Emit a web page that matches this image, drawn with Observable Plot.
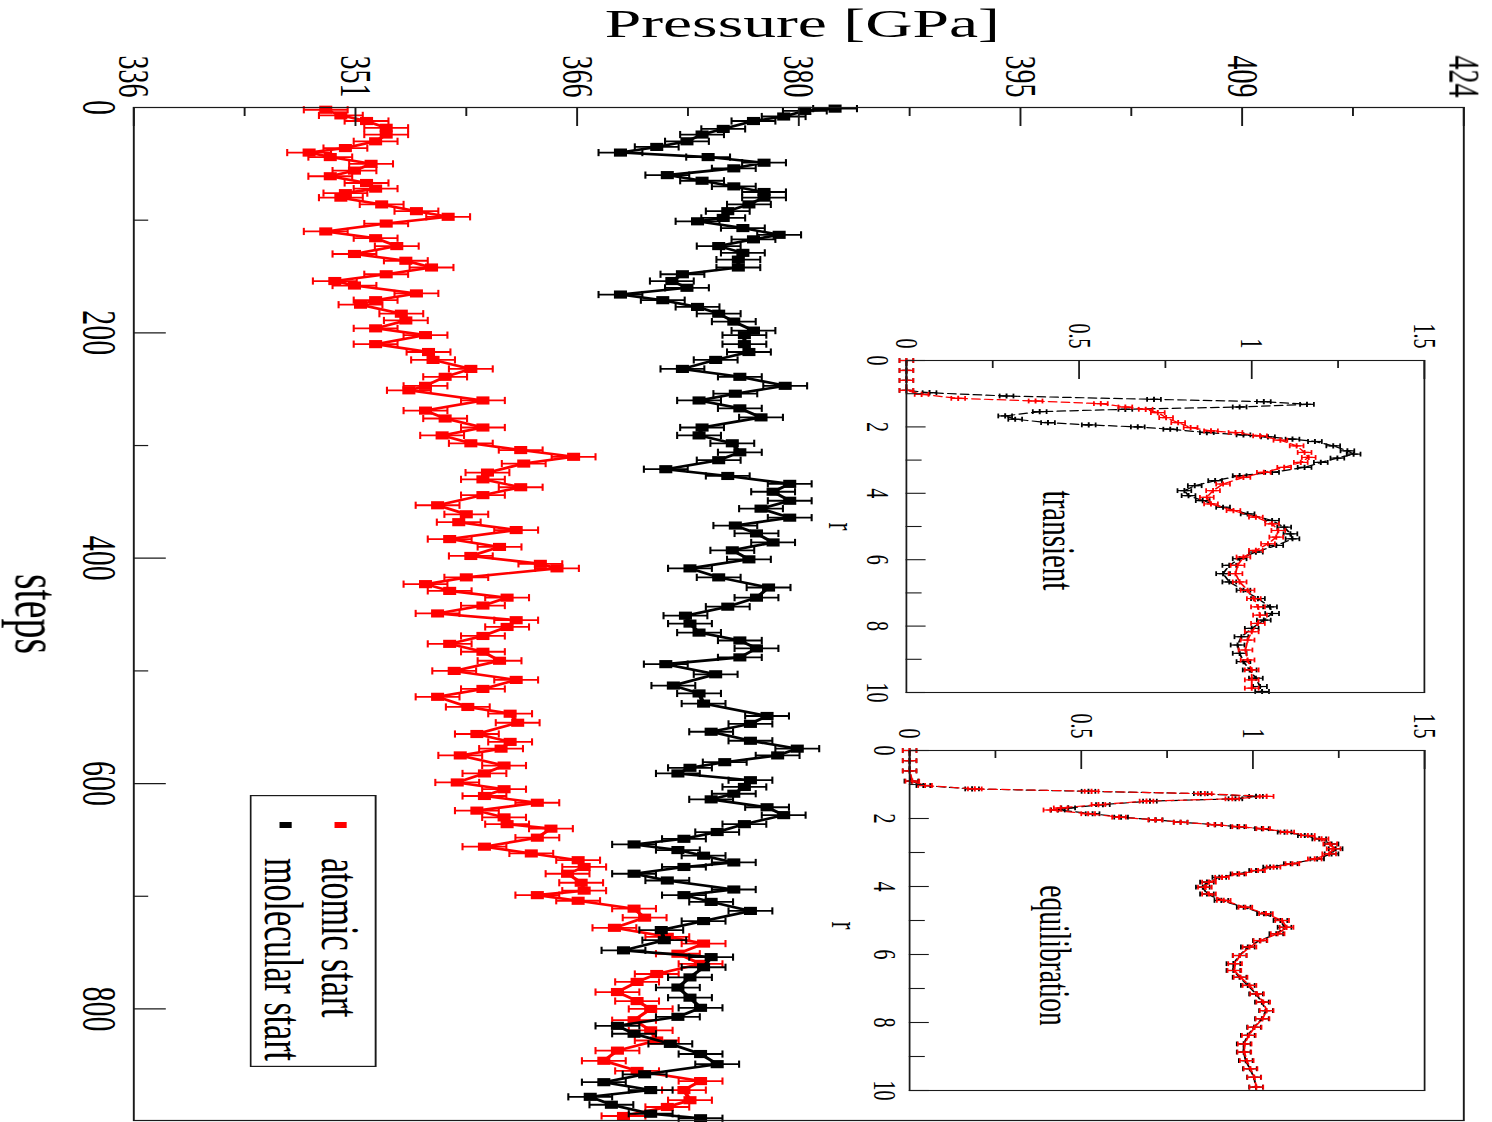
<!DOCTYPE html>
<html><head><meta charset="utf-8">
<script src="https://cdn.jsdelivr.net/npm/d3@7"></script>
<script src="https://cdn.jsdelivr.net/npm/@observablehq/plot@0.6"></script>
<style>
html,body{margin:0;padding:0;background:#fff;overflow:hidden;}
#stage{position:relative;width:932.5px;height:1122px;transform:scaleX(1.6);transform-origin:0 0;}
#stage > svg{position:absolute;left:0;top:0;}
</style></head><body><div id="stage"></div>
<script>
// ---------- data: main chart [steps, pressure GPa] ----------
const atomicStart = [[2,348.7],[7,349.7],[12,351.4],[18,352.7],[24,352.7],[30,352.0],[36,350.0],[40,347.6],[44,349.0],[50,351.7],[56,350.6],[61,349.0],[67,351.4],[72,352.0],[76,350.0],[80,349.7],[86,352.4],[92,354.7],[97,356.8],[103,352.7],[110,348.7],[116,352.0],[123,353.4],[130,350.6],[136,354.0],[142,355.7],[148,352.7],[154,349.3],[158,350.6],[165,354.7],[171,352.0],[175,351.0],[183,353.7],[189,354.0],[196,352.0],
[202,355.3],[210,352.0],[217,355.5],[224,355.8],[232,358.3],[239,356.6],[247,355.3],[251,354.2],[260,359.1],[269,355.3],[276,356.6],[284,359.1],[291,356.4],[298,358.3],[304,361.6],[310,365.1],[316,361.8],[324,359.4],[330,359.1],[337,361.6],[344,359.1],[353,356.1],[361,358.0],[368,357.5],[375,361.3],[383,356.9],[390,360.2],[398,358.3],[405,362.9],[409,364.0],[417,358.0],[423,355.3],[429,356.9],[435,360.7],[442,359.1],[449,356.1],[455,361.3],[461,360.7],[469,359.1],[476,356.9],[483,359.1],[491,360.2],[500,357.2],[508,361.3],[516,359.1],[523,356.1],
[532,358.1],[538,360.9],[546,361.4],[556,358.7],[563,360.9],[569,360.3],[575,357.6],[584,360.5],[591,359.2],[599,357.4],[605,360.5],[611,359.2],[617,362.7],[624,358.7],[630,360.5],[636,360.7],[640,363.6],[648,362.7],[656,359.2],[662,362.3],[668,365.4],[674,365.8],[680,364.7],[688,365.6],[695,365.8],[699,362.7],[704,365.4],[711,369.1],[719,369.8],[728,367.8],[736,371.3],[742,373.7],[751,372.0],[760,373.5],[769,370.6],[776,369.3],[785,368.0],[793,369.3],[800,370.2],[810,369.1],[819,370.2],[828,370.6],[837,368.0],[846,367.1],[855,369.3],[864,373.5],[872,372.4],[881,372.8],[887,371.3],[895,368.4]];
const molecularStart = [[1,382.4],[3,380.4],[8,379.0],[12,377.0],[19,375.0],[24,373.6],[30,372.6],[35,370.6],[40,368.2],[44,374.0],[49,377.7],[54,375.7],[60,371.3],[65,373.6],[70,375.7],[75,377.7],[80,377.7],[86,376.7],[92,375.3],[98,375.0],[101,373.3],[107,376.3],[113,378.7],[117,377.0],[123,374.7],[129,376.3],[135,376.0],[142,376.0],[148,372.3],[154,371.6],[160,372.6],[166,368.2],[171,371.0],[177,373.3],[183,374.7],[190,375.7],[198,377.0],
[202,376.4],[210,376.4],[217,376.7],[224,374.5],[232,372.3],[239,376.1],[247,379.1],[254,375.8],[260,373.4],[267,376.1],[275,377.5],[284,373.6],[291,373.4],[298,375.6],[306,376.1],[313,374.7],[321,371.2],[327,375.3],[334,379.4],[341,378.3],[349,379.4],[356,377.5],[364,379.4],[371,375.8],[378,377.2],[386,378.3],[393,375.6],[401,376.7],[409,372.8],[417,374.7],[426,378.0],[435,377.2],[443,375.3],[451,372.5],[458,372.8],[466,373.4],[473,376.1],[480,377.2],[488,376.1],[494,371.2],[503,374.5],[513,371.7],[520,373.4],
[529,373.7],[540,377.9],[547,376.8],[554,374.2],[562,376.8],[569,379.9],[575,378.6],[581,375.1],[586,372.8],[591,372.0],[597,376.8],[603,376.4],[609,375.7],[614,374.2],[621,377.9],[628,379.0],[636,376.4],[643,374.6],[649,372.4],[654,369.1],[659,372.0],[664,373.7],[670,375.7],[674,372.4],[680,369.1],[686,371.3],[694,375.7],[699,372.4],[705,374.2],[713,376.8],[722,373.7],[730,370.9],[739,371.1],[748,368.4],[754,374.2],[763,373.7],[772,372.8],[781,372.0],[790,372.8],[799,373.5],[807,372.0],[815,368.0],[822,369.1],[831,371.5],[840,373.5],[849,374.6],[858,369.8],[865,367.1],[872,370.2],[878,366.2],[885,367.6],[893,370.2],[897,373.5]];

// ---------- data: insets [r, g(r)] ----------
const transientBlack = [[0,0],[0.3,0],[0.6,0],[0.9,0],[0.97,0.067],[1.07,0.29],[1.17,0.717],[1.24,1.035],[1.32,1.16],[1.40,0.965],[1.47,0.634],[1.54,0.386],[1.67,0.286],[1.77,0.315],[1.87,0.41],[1.94,0.528],[2.0,0.67],[2.07,0.764],[2.17,0.87],[2.24,0.976],[2.3,1.047],[2.37,1.118],[2.44,1.183],[2.57,1.236],[2.72,1.277],[2.82,1.295],[2.94,1.248],[3.07,1.2],[3.22,1.153],[3.37,1.059],[3.47,0.965],[3.62,0.894],[3.77,0.835],[3.92,0.805],[4.07,0.817],[4.22,0.858],[4.42,0.917],[4.62,0.988],[4.82,1.059],[5.02,1.094],[5.22,1.112],[5.37,1.118],[5.57,1.071],[5.77,1.012],[5.97,0.965],[6.17,0.935],[6.42,0.917],[6.67,0.935],[6.92,0.976],[7.17,1.018],[7.42,1.053],[7.62,1.059],[7.82,1.035],[8.07,1.0],[8.32,0.97],[8.57,0.959],[8.82,0.965],[9.07,0.976],[9.32,0.994],[9.57,1.012],[9.82,1.024],[9.97,1.03]];
const transientRed = [[0,0],[0.3,0],[0.6,0],[0.9,0],[1.02,0.044],[1.14,0.15],[1.22,0.374],[1.30,0.563],[1.40,0.634],[1.47,0.693],[1.57,0.728],[1.72,0.752],[1.87,0.787],[2.02,0.823],[2.12,0.882],[2.17,0.953],[2.27,1.024],[2.4,1.083],[2.57,1.13],[2.77,1.153],[2.92,1.165],[3.07,1.142],[3.22,1.094],[3.37,1.035],[3.52,0.976],[3.72,0.917],[3.92,0.888],[4.12,0.87],[4.32,0.882],[4.52,0.947],[4.72,1.012],[4.92,1.059],[5.12,1.077],[5.32,1.071],[5.52,1.047],[5.72,1.012],[5.92,0.976],[6.17,0.959],[6.42,0.953],[6.67,0.965],[6.92,0.988],[7.17,1.006],[7.42,1.018],[7.67,1.024],[7.92,1.018],[8.17,1.0],[8.42,0.988],[8.72,0.982],[9.02,0.988],[9.32,1.0],[9.62,1.0],[9.87,1.0]];
const equilBlack = [[0,0],[0.3,0],[0.6,0],[0.9,0.005],[1.03,0.04],[1.13,0.182],[1.2,0.521],[1.27,0.848],[1.35,1.009],[1.42,0.949],[1.49,0.7],[1.59,0.563],[1.69,0.462],[1.75,0.432],[1.86,0.533],[1.96,0.616],[2.04,0.717],[2.11,0.789],[2.18,0.89],[2.24,0.955],[2.30,1.026],[2.40,1.092],[2.50,1.151],[2.60,1.193],[2.75,1.229],[2.89,1.241],[3.04,1.229],[3.19,1.187],[3.33,1.11],[3.43,1.05],[3.53,1.009],[3.63,0.955],[3.73,0.902],[3.87,0.866],[4.02,0.854],[4.22,0.866],[4.41,0.908],[4.61,0.973],[4.80,1.032],[5.0,1.08],[5.2,1.092],[5.39,1.068],[5.59,1.02],[5.78,0.985],[6.03,0.961],[6.27,0.943],[6.47,0.943],[6.67,0.961],[6.91,0.985],[7.16,1.009],[7.4,1.026],[7.65,1.038],[7.89,1.026],[8.14,1.003],[8.38,0.985],[8.63,0.973],[8.87,0.973],[9.12,0.979],[9.36,0.991],[9.61,1.003],[9.9,1.009]];
const equilRed = [[0,0],[0.3,0],[0.6,0],[0.9,0.008],[1.03,0.045],[1.13,0.19],[1.2,0.53],[1.27,0.86],[1.35,1.04],[1.42,0.94],[1.49,0.69],[1.59,0.55],[1.69,0.44],[1.75,0.41],[1.86,0.52],[1.96,0.61],[2.04,0.715],[2.11,0.79],[2.18,0.888],[2.24,0.96],[2.30,1.03],[2.40,1.10],[2.50,1.16],[2.60,1.20],[2.75,1.225],[2.89,1.235],[3.04,1.222],[3.19,1.18],[3.33,1.115],[3.43,1.06],[3.53,1.015],[3.63,0.96],[3.73,0.91],[3.87,0.872],[4.02,0.86],[4.22,0.872],[4.41,0.915],[4.61,0.978],[4.80,1.038],[5.0,1.085],[5.2,1.098],[5.39,1.072],[5.59,1.022],[5.78,0.99],[6.03,0.962],[6.27,0.948],[6.47,0.946],[6.67,0.964],[6.91,0.99],[7.16,1.012],[7.4,1.03],[7.65,1.04],[7.89,1.028],[8.14,1.005],[8.38,0.988],[8.63,0.976],[8.87,0.975],[9.12,0.982],[9.36,0.993],[9.61,1.004],[9.9,1.01]];

// ---------- ticks & labels ----------
const pressureTicks = [336, 350.667, 365.333, 380, 394.667, 409.333, 424];
const pressureLabels = ["336","351","366","380","395","409","424"];
const pressureMinor = [343.333, 358, 372.667, 387.333, 402, 416.667];
const stepTicks = [0, 200, 400, 600, 800];
const stepMinor = [100, 300, 500, 700];
const rTicks = [0, 2, 4, 6, 8, 10];
const rMinor = [1, 3, 5, 7, 9];
const gTicks = [0, 0.5, 1, 1.5];
const gLabels = ["0","0.5","1","1.5"];
const gMinor = [0.25, 0.75, 1.25];
const legendLabels = ["atomic start", "molecular start"];
const legendColors = ["#ff0000", "#000000"];

// ---------- layout (design space, later stretched horizontally) ----------
const K = 1.6;
const W = 1492 / K;
const FONT = "Liberation Serif, Times New Roman, serif";
const INK = "#1a1a1a";
const capSymbol = {draw(ctx, size) { const h = Math.sqrt(size / Math.PI); ctx.moveTo(0, -h); ctx.lineTo(0, h); }};

function seriesMarks(data, color, o) {
  const X = d => d[1], Y = d => d[0];
  const marks = [
    Plot.line(data, {x: X, y: Y, stroke: color, strokeWidth: o.lw, strokeDasharray: o.dash || null}),
    Plot.link(data, {x1: d => d[1] - o.err, x2: d => d[1] + o.err, y1: Y, y2: Y, stroke: color, strokeWidth: o.ew}),
    Plot.dot(data, {x: d => d[1] - o.err, y: Y, symbol: capSymbol, r: o.cap, stroke: color, fill: "none", strokeWidth: o.cw}),
    Plot.dot(data, {x: d => d[1] + o.err, y: Y, symbol: capSymbol, r: o.cap, stroke: color, fill: "none", strokeWidth: o.cw})
  ];
  if (o.sq) marks.push(Plot.dot(data, {x: X, y: Y, symbol: "square", r: o.sq, fill: color, stroke: "none"}));
  if (o.plus) marks.push(Plot.dot(data, {x: X, y: Y, symbol: "plus", r: o.plus, stroke: color, strokeWidth: 1.2}));
  return marks;
}

const stage = document.getElementById("stage");

// ---------- main plot ----------
const fL = 133 / K, fR = 1463 / K, fT = 107, fB = 1120;
const fW = fR - fL, fH = fB - fT;
const mainOpts = {err: 1.45, lw: 2.6, ew: 1.8, cap: 3.6, cw: 1.3, sq: 4.6};
const main = Plot.plot({
  width: W, height: 1122,
  marginLeft: fL, marginRight: W - fR, marginTop: fT, marginBottom: 1122 - fB,
  x: {domain: [336, 424], axis: null},
  y: {domain: [0, 899], reverse: true, axis: null},
  style: {fontFamily: FONT, background: "white", overflow: "visible"},
  marks: [
    ...seriesMarks(atomicStart, "#ff0000", mainOpts),
    ...seriesMarks(molecularStart, "#000000", mainOpts),
    Plot.frame({stroke: INK, strokeWidth: 1.2}),
    Plot.tickX(pressureTicks, {x: d => d, stroke: INK, strokeWidth: 1.2, insetBottom: fH - 19}),
    Plot.tickX(pressureMinor, {x: d => d, stroke: INK, strokeWidth: 1.2, insetBottom: fH - 9}),
    Plot.tickY(stepTicks, {y: d => d, stroke: INK, strokeWidth: 1.2, insetRight: fW - 20.5}),
    Plot.tickY(stepMinor, {y: d => d, stroke: INK, strokeWidth: 1.2, insetRight: fW - 9.5}),
    Plot.text(pressureTicks, {x: d => d, text: (d, i) => pressureLabels[i], frameAnchor: "top", dy: -10, rotate: 90, textAnchor: "end", lineAnchor: "middle", fontSize: 28, fill: "#000", fontFamily: FONT}),
    Plot.text(stepTicks, {y: d => d, text: d => String(d), frameAnchor: "left", dx: 98 / K - fL, rotate: 90, textAnchor: "middle", lineAnchor: "middle", fontSize: 30, fill: "#000", fontFamily: FONT}),
    Plot.text(["Pressure [GPa]"], {text: d => d, frameAnchor: "top", dx: 801.5 / K - (fL + fR) / 2, dy: 23.5 - fT, textAnchor: "middle", lineAnchor: "middle", fontSize: 41, fill: "#000", fontFamily: FONT}),
    Plot.text(["steps"], {text: d => d, frameAnchor: "left", dx: 22 - fL, rotate: 90, textAnchor: "middle", lineAnchor: "middle", fontSize: 40, fill: "#000", fontFamily: FONT})
  ]
});
stage.appendChild(main);

// ---------- insets ----------
function inset(o) {
  const mL = 70, mT = 50, mR = 4, mB = 4;
  const left = o.left / K, right = o.right / K;
  const iw = right - left, ih = o.bottom - o.top;
  const inOpts = {err: 0.02, lw: 1.2, ew: 1.2, cap: 2.4, cw: 1.1, plus: 1.8, dash: "5,3"};
  const svg = Plot.plot({
    width: iw + mL + mR, height: ih + mT + mB,
    marginLeft: mL, marginRight: mR, marginTop: mT, marginBottom: mB,
    x: {domain: [0, 1.5], axis: null},
    y: {domain: [0, 10], reverse: true, axis: null},
    style: {fontFamily: FONT, background: "transparent", overflow: "visible"},
    marks: [
      ...seriesMarks(o.black, "#000000", inOpts),
      ...seriesMarks(o.red, "#ff0000", inOpts),
      Plot.frame({stroke: INK, strokeWidth: 1.1}),
      Plot.tickX(gTicks, {x: d => d, stroke: INK, strokeWidth: 1.1, insetBottom: ih - 19}),
      Plot.tickX(gMinor, {x: d => d, stroke: INK, strokeWidth: 1.1, insetBottom: ih - 8}),
      Plot.tickY(rTicks, {y: d => d, stroke: INK, strokeWidth: 1.1, insetRight: iw - 12.5}),
      Plot.tickY(rMinor, {y: d => d, stroke: INK, strokeWidth: 1.1, insetRight: iw - 10}),
      Plot.text(gTicks, {x: d => d, text: (d, i) => gLabels[i], frameAnchor: "top", dy: -12, rotate: 90, textAnchor: "end", lineAnchor: "middle", fontSize: 20, fill: "#000", fontFamily: FONT}),
      Plot.text(rTicks, {y: d => d, text: d => String(d), frameAnchor: "left", dx: o.rLabelDx, rotate: 90, textAnchor: "middle", lineAnchor: "middle", fontSize: 20, fill: "#000", fontFamily: FONT}),
      Plot.text(["r"], {text: d => d, frameAnchor: "left", dx: -41, dy: o.rDy, rotate: 90, textAnchor: "middle", lineAnchor: "middle", fontSize: 24, fill: "#000", fontFamily: FONT}),
      Plot.text([o.name], {text: d => d, frameAnchor: "left", dx: o.nameDx, dy: o.nameDy, rotate: 90, textAnchor: "middle", lineAnchor: "middle", fontSize: o.nameSize, fill: "#000", fontFamily: FONT})
    ]
  });
  svg.style.left = (left - mL) + "px";
  svg.style.top = (o.top - mT) + "px";
  stage.appendChild(svg);
}
inset({left: 905, right: 1423, top: 360, bottom: 692, black: transientBlack, red: transientRed,
  name: "transient", nameDx: 1056 / K - 905 / K, nameDy: 14, nameSize: 29, rLabelDx: -18, rDy: 0});
inset({left: 908, right: 1423, top: 750, bottom: 1090, black: equilBlack, red: equilRed,
  name: "equilibration", nameDx: 1052 / K - 908 / K, nameDy: 35, nameSize: 27.5, rLabelDx: -16, rDy: 5});

// ---------- legend ----------
const lgW = 127 / K, lgH = 272;
const leg = d3.select(stage).append("svg")
  .style("position", "absolute").style("left", (250 / K) + "px").style("top", "795px")
  .attr("width", lgW).attr("height", lgH);
leg.append("rect").attr("x", 0.6).attr("y", 0.6).attr("width", lgW - 1.2).attr("height", lgH - 1.2)
  .attr("fill", "white").attr("stroke", INK).attr("stroke-width", 1.2);
const legX = [(339.5 - 250) / K, (283 - 250) / K];
const swX = [(341 - 250) / K, (286 - 250) / K];
legendLabels.forEach((lab, i) => {
  leg.append("rect").attr("x", swX[i] - 3.8).attr("y", 27).attr("width", 7.6).attr("height", 6).attr("fill", legendColors[i]);
  leg.append("text").attr("transform", `translate(${legX[i]},63) rotate(90)`).attr("dy", "0.32em")
    .attr("font-family", FONT).attr("font-size", 34).attr("fill", "#000").text(lab);
});
</script>
</body></html>
